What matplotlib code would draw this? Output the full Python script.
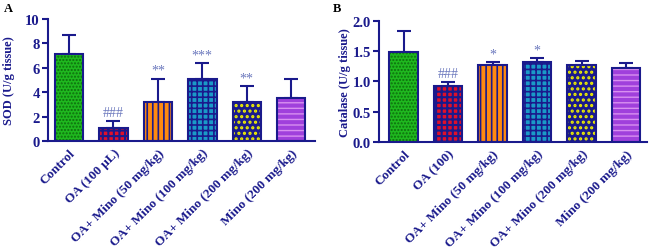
import numpy as np
import matplotlib.pyplot as plt

plt.rcParams['font.family'] = ['Liberation Serif', 'DejaVu Serif']

navy = '#1a1a8c'
note_col = '#6b78bd'

labels_a = ['Control', 'OA (100 μL)', 'OA+ Mino (50 mg/kg)', 'OA+ Mino (100 mg/kg)',
            'OA+ Mino (200 mg/kg)', 'Mino (200 mg/kg)']
labels_b = ['Control', 'OA (100)', 'OA+ Mino (50 mg/kg)', 'OA+ Mino (100 mg/kg)',
            'OA+ Mino (200 mg/kg)', 'Mino (200 mg/kg)']

sod_mean = [7.1, 1.05, 3.2, 5.05, 3.2, 3.5]
sod_err = [1.6, 0.6, 1.9, 1.35, 1.3, 1.6]
sod_notes = ['', '###', '**', '***', '**', '']

cat_mean = [1.48, 0.93, 1.27, 1.32, 1.28, 1.22]
cat_err = [0.35, 0.06, 0.05, 0.07, 0.06, 0.08]
cat_notes = ['', '###', '*', '*', '', '']

face = ['#1fb81f', '#e0102a', '#ff8a10', '#1a9ac8', '#1a1a8c', '#a040dc']
hatch_col = ['#0d6e0d', '#1a1a8c', '#1a1a8c', '#1a1a8c', '#f0f000', '#d890f0']
hatches = ['.....', '+++', '|||', '+++', '...', '---']
hatch_lw = [1.0, 1.5, 1.2, 1.2, 1.5, 1.0]


def draw(ax, means, errs, notes, labels, ylim, yticks, ylabel, xlim, fmt, off, lab_x):
    x = np.arange(len(means))
    ax.bar(x, means, width=0.64, color=face, edgecolor='none', zorder=2)
    for i in range(len(means)):
        with plt.rc_context({'hatch.linewidth': hatch_lw[i]}):
            ax.bar(x[i], means[i], width=0.64, fill=False, hatch=hatches[i],
                   edgecolor=hatch_col[i], linewidth=0, zorder=3)
    ax.bar(x, means, width=0.64, fill=False, edgecolor=navy, linewidth=1.5, zorder=4)
    ax.errorbar(x, means, yerr=[np.zeros(len(errs)), errs], fmt='none',
                ecolor=navy, elinewidth=1.5, capsize=5, capthick=1.5, zorder=1)
    for i, n in enumerate(notes):
        if n:
            ax.text(x[i], means[i] + errs[i] + off, n, ha='center', va='bottom',
                    color=note_col, fontsize=10)
    ax.set_xlim(*xlim)
    ax.set_ylim(*ylim)
    ax.set_yticks(yticks)
    ax.set_yticklabels([fmt.format(v) for v in yticks])
    ax.set_xticks(x)
    ax.set_xticklabels(labels, rotation=45, ha='right', rotation_mode='anchor')
    for s in ['top', 'right']:
        ax.spines[s].set_visible(False)
    for s in ['left', 'bottom']:
        ax.spines[s].set_color(navy)
        ax.spines[s].set_linewidth(1.5)
    ax.tick_params(axis='y', colors=navy, width=1.5, length=4, labelsize=10.5, pad=2)
    ax.tick_params(axis='x', colors=navy, length=0, labelsize=9.5, pad=4)
    for t in ax.get_xticklabels() + ax.get_yticklabels():
        t.set_fontweight('bold')
    ax.set_ylabel(ylabel, color=navy, fontsize=9, fontweight='bold')
    ax.yaxis.set_label_coords(lab_x, 0.5)


fig = plt.figure(figsize=(6.49, 2.53), dpi=100)
ax1 = fig.add_axes([0.074, 0.439, 0.411, 0.482])
ax2 = fig.add_axes([0.584, 0.435, 0.413, 0.478])

draw(ax1, sod_mean, sod_err, sod_notes, labels_a, (0, 10), [0, 2, 4, 6, 8, 10],
     'SOD (U/g tissue)', (-0.47, 5.53), '{:.0f}', 0.15, -0.125)
draw(ax2, cat_mean, cat_err, cat_notes, labels_b, (0, 2.0), [0.0, 0.5, 1.0, 1.5, 2.0],
     'Catalase (U/g tissue)', (-0.55, 5.47), '{:.1f}', 0.03, -0.105)

fig.text(0.006, 0.965, 'A', fontsize=9, fontweight='bold', va='center')
fig.text(0.513, 0.965, 'B', fontsize=9, fontweight='bold', va='center')

fig.savefig('out.png', dpi=100)
